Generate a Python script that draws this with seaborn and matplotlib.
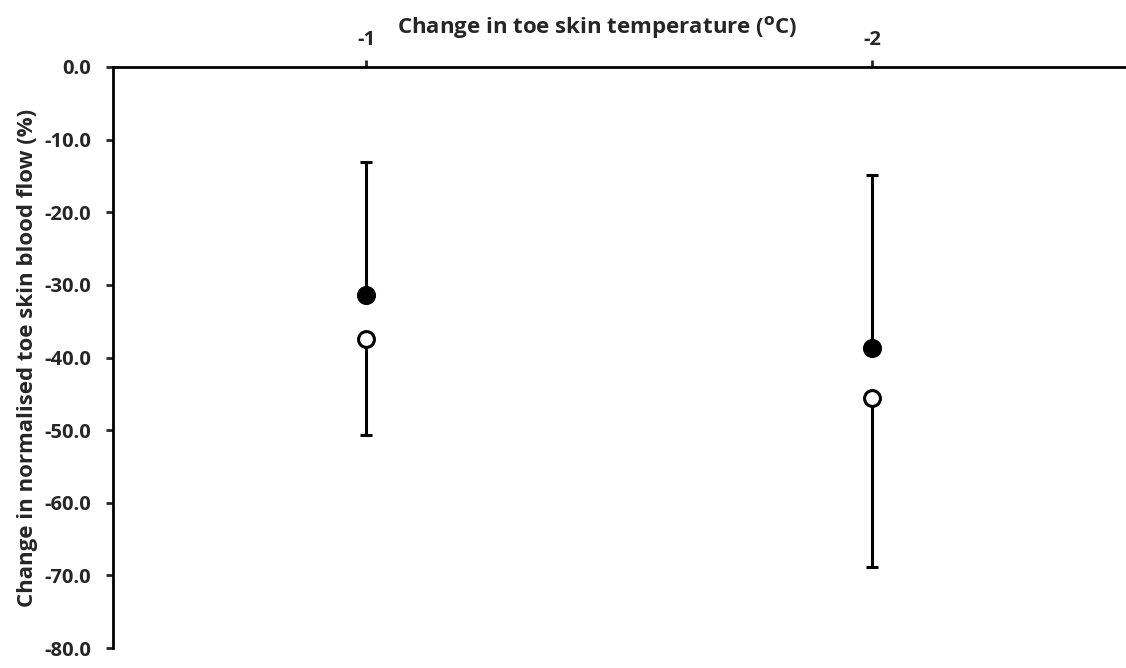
import matplotlib
matplotlib.use("Agg")
import matplotlib.pyplot as plt
import seaborn as sns
import pandas as pd
import numpy as np

temps = ["-1", "-2"]
filled_mean = [-31.4, -38.7]
filled_upper = [-13.1, -14.9]
open_mean = [-37.5, -45.6]
open_lower = [-50.7, -68.8]
yticks = [0, -10, -20, -30, -40, -50, -60, -70, -80]

sns.set_style("white")
plt.rcParams['font.family'] = ['Open Sans', 'DejaVu Sans']

fig = plt.figure(figsize=(11.26, 6.68), dpi=100)
ax = fig.add_axes([113/1126, 1-648/668, 1012/1126, 581/668])

pos = np.arange(len(temps))
df = pd.DataFrame({"pos": np.concatenate([pos, pos]),
                   "val": filled_mean + open_mean,
                   "grp": ["filled"] * 2 + ["open"] * 2})

# error bars (one-sided)
ax.errorbar(pos, filled_mean,
            yerr=[np.zeros(2), np.array(filled_upper) - np.array(filled_mean)],
            fmt="none", ecolor="black", elinewidth=2.2, capsize=4, capthick=2.2, zorder=2)
ax.errorbar(pos, open_mean,
            yerr=[np.array(open_mean) - np.array(open_lower), np.zeros(2)],
            fmt="none", ecolor="black", elinewidth=2.2, capsize=4, capthick=2.2, zorder=2)

sns.scatterplot(data=df[df.grp == "filled"], x="pos", y="val", ax=ax,
                color="black", edgecolor="black", s=150, linewidth=1.5, zorder=3, legend=False)
sns.scatterplot(data=df[df.grp == "open"], x="pos", y="val", ax=ax,
                color="white", edgecolor="black", s=130, linewidth=2.2, zorder=3, legend=False)

ax.set_xlim(-0.5, 1.5)
ax.set_ylim(-80, 0)
ax.set_yticks(yticks)
ax.set_yticklabels([f"{v:.1f}" for v in yticks], fontweight="bold", fontsize=14.5)
ax.set_xticks(pos)
ax.set_xticklabels(temps, fontweight="bold", fontsize=14.5)
ax.xaxis.tick_top()
ax.xaxis.set_label_position("top")
ax.tick_params(axis="y", direction="out", length=5, width=2, pad=11, left=True)
ax.tick_params(axis="x", direction="out", length=5, width=2, pad=7, top=True, bottom=False)

for s in ["right", "bottom"]:
    ax.spines[s].set_visible(False)
for s in ["left", "top"]:
    ax.spines[s].set_visible(True)
    ax.spines[s].set_linewidth(2)
    ax.spines[s].set_color("black")

ax.set_xlabel(r"Change in toe skin temperature ($^{\mathbf{o}}$C)", fontweight="bold",
              fontsize=16)
ax.xaxis.set_label_coords(0.479, 1.058)
ax.set_ylabel("Change in normalised toe skin blood flow (%)", fontweight="bold",
              fontsize=16, labelpad=4)

fig.savefig("out.png", dpi=100)
